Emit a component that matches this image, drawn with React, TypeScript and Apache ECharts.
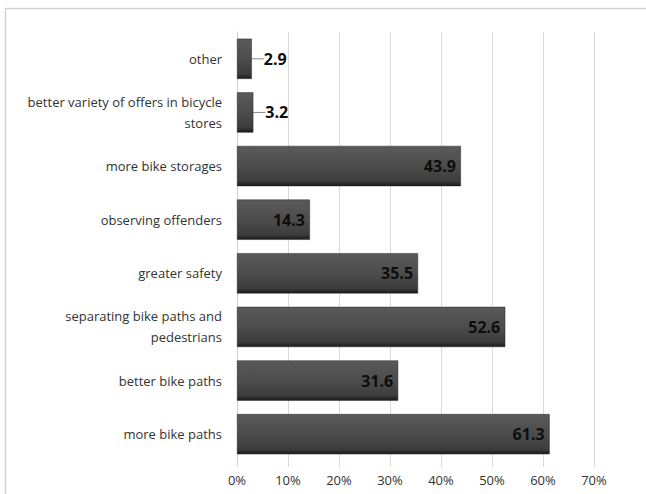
import React, { useEffect, useRef } from "react";
import * as echarts from "echarts";

const categories = [
  "more bike paths",
  "better bike paths",
  "separating bike paths and\npedestrians",
  "greater safety",
  "observing offenders",
  "more bike storages",
  "better variety of offers in bicycle\nstores",
  "other",
];
const values = [61.3, 31.6, 52.6, 35.5, 14.3, 43.9, 3.2, 2.9];
const xTicks = [0, 10, 20, 30, 40, 50, 60, 70];
const SMALL = 5;

export default function App() {
  const ref = useRef<HTMLDivElement>(null);
  useEffect(() => {
    if (!ref.current) return;
    const chart = echarts.init(ref.current, undefined, { renderer: "svg" });
    const font = "'Open Sans', sans-serif";
    const barColor = new echarts.graphic.LinearGradient(0, 0, 0, 1, [
      { offset: 0, color: "#5a5a5a" },
      { offset: 0.5, color: "#4c4c4c" },
      { offset: 0.88, color: "#3c3c3c" },
      { offset: 1, color: "#1a1a1a" },
    ]);
    chart.setOption({
      animation: false,
      backgroundColor: "#ffffff",
      graphic: [
        {
          type: "rect",
          shape: { x: 5.5, y: 8.5, width: 700, height: 600 },
          style: { fill: "none", stroke: "#d4d4d4", lineWidth: 1.5 },
          silent: true,
        },
      ],
      grid: { left: 237, right: 52, top: 32, bottom: 33, containLabel: false },
      xAxis: {
        type: "value",
        min: xTicks[0],
        max: xTicks[xTicks.length - 1],
        interval: 10,
        axisLine: { show: false },
        axisTick: { show: true, length: 6, lineStyle: { color: "#d9d9d9" } },
        splitLine: { show: true, lineStyle: { color: "#d9d9d9", width: 1 } },
        axisLabel: {
          formatter: "{value}%",
          color: "#333333",
          fontFamily: font,
          fontSize: 13,
          margin: 12,
        },
      },
      yAxis: {
        type: "category",
        data: categories,
        axisLine: { show: true, lineStyle: { color: "#d0d0d0" } },
        axisTick: { show: false },
        axisLabel: {
          color: "#333333",
          fontFamily: font,
          fontSize: 13,
          lineHeight: 21,
          margin: 15,
          align: "right",
        },
      },
      series: [
        {
          type: "bar",
          data: values.map((v) => ({
            value: v,
            label:
              v < SMALL
                ? { position: "right", distance: 2 }
                : { position: "insideRight", distance: 5 },
          })),
          barCategoryGap: "25%",
          itemStyle: { color: barColor, borderColor: "#262626", borderWidth: 0.5 },
          label: {
            show: true,
            color: "#0d0d0d",
            fontWeight: "bold",
            fontFamily: font,
            fontSize: 16,
            formatter: (p: any) => p.value.toFixed(1),
          },
          labelLayout: (params: any) =>
            values[params.dataIndex] < SMALL ? { dx: 10 } : {},
          labelLine: { show: true, lineStyle: { color: "#8a8a8a", width: 1 } },
        },
      ],
    });
    return () => chart.dispose();
  }, []);
  return (
    <div
      ref={ref}
      style={{ position: "absolute", left: 0, top: 0, width: 646, height: 494 }}
    />
  );
}
